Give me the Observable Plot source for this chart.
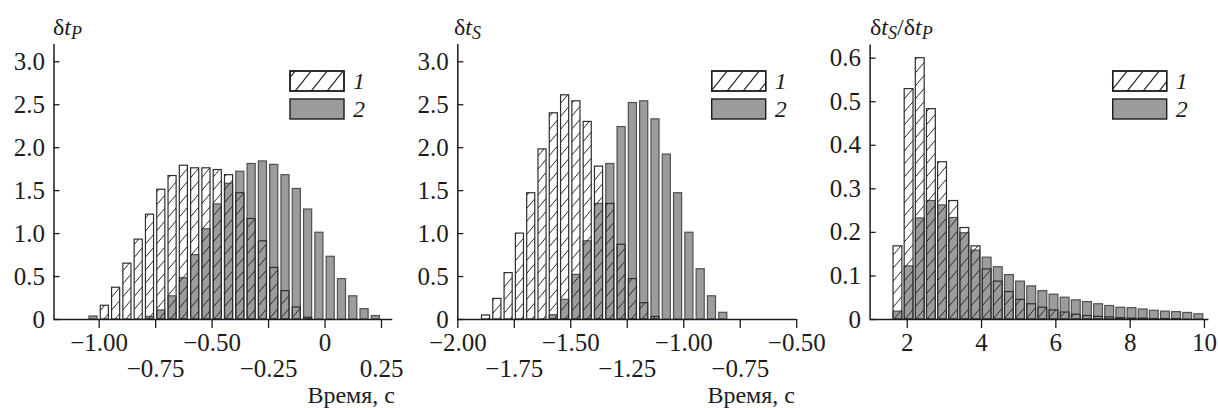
<!DOCTYPE html>
<html><head><meta charset="utf-8">
<script src="https://cdn.jsdelivr.net/npm/d3@7"></script>
<script src="https://cdn.jsdelivr.net/npm/@observablehq/plot@0.6"></script>
<style>
body{margin:0;background:#fff;}
#chart{position:relative;width:1218px;height:408px;overflow:hidden;background:#fff;font-family:"Liberation Serif","Times New Roman",serif;}
#chart > svg{position:absolute;top:0;}
#chart svg, #chart svg text{font-family:"Liberation Serif","Times New Roman",serif !important;}
#chart svg.panel g[aria-label*="tick label"]{font-size:25px !important;}
#chart svg.panel g[aria-label*="tick label"] text{font-size:25px !important;}
</style></head>
<body><div id="chart"></div>
<script>
// ---------- DATA ----------
// Panel 1: δt_P histogram (bin starts, width 0.05)
const p1Bins = [-1.05,-1.00,-0.95,-0.90,-0.85,-0.80,-0.75,-0.70,-0.65,-0.60,-0.55,-0.50,-0.45,-0.40,-0.35,-0.30,-0.25,-0.20,-0.15,-0.10,-0.05,0.00,0.05,0.10,0.15,0.20];
const p1BinWidth = 0.05;
const p1Series1 = [0,0.16,0.37,0.65,0.93,1.22,1.51,1.67,1.79,1.76,1.76,1.74,1.68,1.47,1.17,0.91,0.60,0.33,0.14,0.02,0,0,0,0,0,0];
const p1Series2 = [0.035,0,0,0,0,0.03,0.105,0.27,0.48,0.75,1.05,1.34,1.58,1.72,1.81,1.84,1.80,1.68,1.52,1.28,1.01,0.73,0.47,0.27,0.12,0.04];
const p1XDomain = [-1.2, 0.3];
const p1XTicksRow1 = [-1.00,-0.50,0];
const p1XLabelsRow1 = ["\u22121.00","\u22120.50","0"];
const p1XTicksRow2 = [-0.75,-0.25,0.25];
const p1XLabelsRow2 = ["\u22120.75","\u22120.25","0.25"];

// Panel 2: δt_S histogram
const p2Bins = [-1.90,-1.85,-1.80,-1.75,-1.70,-1.65,-1.60,-1.55,-1.50,-1.45,-1.40,-1.35,-1.30,-1.25,-1.20,-1.15,-1.10,-1.05,-1.00,-0.95,-0.90,-0.85];
const p2BinWidth = 0.05;
const p2Series1 = [0.047,0.24,0.54,1.00,1.47,1.98,2.40,2.61,2.54,2.30,1.78,1.345,0.87,0.47,0.19,0.03,0,0,0,0,0,0];
const p2Series2 = [0,0,0,0,0,0,0.05,0.23,0.52,0.91,1.345,1.81,2.24,2.52,2.54,2.33,1.92,1.47,1.01,0.585,0.27,0.078];
const p2XDomain = [-2.0, -0.5];
const p2XTicksRow1 = [-2.00,-1.50,-1.00,-0.50];
const p2XLabelsRow1 = ["\u22122.00","\u22121.50","\u22121.00","\u22120.50"];
const p2XTicksRow2 = [-1.75,-1.25,-0.75];
const p2XLabelsRow2 = ["\u22121.75","\u22121.25","\u22120.75"];

// Panel 3: δt_S/δt_P histogram (bin width 0.3)
const p3Bins = [1.6,1.9,2.2,2.5,2.8,3.1,3.4,3.7,4.0,4.3,4.6,4.9,5.2,5.5,5.8,6.1,6.4,6.7,7.0,7.3,7.6,7.9,8.2,8.5,8.8,9.1,9.4,9.7];
const p3BinWidth = 0.3;
const p3Series1 = [0.168,0.529,0.600,0.483,0.361,0.272,0.210,0.168,0.115,0.087,0.063,0.045,0.035,0.027,0.021,0.016,0.011,0.008,0.006,0.005,0.003,0.002,0.002,0.001,0.001,0.001,0,0];
const p3Series2 = [0.018,0.122,0.232,0.272,0.262,0.233,0.198,0.158,0.142,0.120,0.102,0.087,0.076,0.065,0.057,0.050,0.044,0.040,0.035,0.031,0.027,0.026,0.023,0.020,0.018,0.017,0.015,0.012];
const p3XDomain = [1, 10.12];
const p3XTicks = [2,4,6,8,10];
const p3XLabels = ["2","4","6","8","10"];

// Y axes
const p12YDomain = [0, 3.2];
const p12YTicks = [0,0.5,1.0,1.5,2.0,2.5,3.0];
const p12YLabels = ["0","0.5","1.0","1.5","2.0","2.5","3.0"];
const p3YDomain = [0, 0.63];
const p3YTicks = [0,0.1,0.2,0.3,0.4,0.5,0.6];
const p3YLabels = ["0","0.1","0.2","0.3","0.4","0.5","0.6"];

const legendLabels = ["1","2"];
const xTitle = "Время, с";

// ---------- STYLE ----------
const GREY = "#9c9c9e", GREY_STROKE = "#505050", DARK = "#1c1c1c";
const FONT = "Liberation Serif, Times New Roman, serif";
const FS = 24, TFS = 25;

const chart = document.getElementById("chart");

// overlay svg with pattern defs, titles and legends
const ov = d3.create("svg").attr("width",1218).attr("height",408)
  .style("left","0px").style("z-index",2).attr("font-family",FONT).style("pointer-events","none");
const defs = ov.append("defs");
function hatch(id, W, H, sw){
  const p = defs.append("pattern").attr("id",id).attr("patternUnits","userSpaceOnUse")
    .attr("width",W).attr("height",H);
  p.append("path")
    .attr("d",`M0,${H} L${W},0 M${-W/2},${H/2} L${W/2},${-H/2} M${W/2},${H*1.5} L${W*1.5},${H/2}`)
    .attr("stroke","#2a2a2a").attr("stroke-width",sw).attr("fill","none");
}
hatch("hatchBar", 11, 13, 1);
hatch("hatchLeg", 16, 20, 1.2);

function panel(cfg){
  const g = cfg.bins.map((b,i)=>({x1:b, x2:b+cfg.binWidth, y:cfg.s2[i]})).filter(d=>d.y>0);
  const h = cfg.bins.map((b,i)=>({x1:b, x2:b+cfg.binWidth, y:cfg.s1[i]})).filter(d=>d.y>0);
  const fmt = (ticks, labels) => d => labels[ticks.indexOf(d)];
  const marks = [
    Plot.rectY(g, {x1:"x1", x2:"x2", y:"y", fill:GREY, stroke:GREY_STROKE, strokeWidth:1.2, insetLeft:cfg.inset, insetRight:cfg.inset}),
    Plot.rectY(h, {x1:"x1", x2:"x2", y:"y", fill:"url(#hatchBar)", stroke:"#2e2e2e", strokeWidth:1.2, insetLeft:cfg.inset, insetRight:cfg.inset}),
    Plot.ruleX([cfg.xDomain[0]], {stroke:DARK, strokeWidth:1.5}),
    Plot.ruleY([0], {stroke:DARK, strokeWidth:1.5}),
    Plot.axisY({ticks:cfg.yTicks, tickSize:6, dx:6, tickFormat:()=>null, stroke:DARK, strokeWidth:1.3, label:null}),
    Plot.axisY({ticks:cfg.yTicks, tickSize:0, tickPadding:9, tickFormat:fmt(cfg.yTicks,cfg.yLabels), label:null, fontSize:TFS}),
  ];
  cfg.xRows.forEach(r => {
    marks.push(Plot.axisX({ticks:r.ticks, tickSize:9, tickPadding:r.pad, stroke:DARK, strokeWidth:1.3,
      tickFormat:fmt(r.ticks, r.labels), label:null, fontSize:TFS}));
  });
  const svg = Plot.plot({
    width:cfg.width, height:408,
    marginLeft:cfg.ml, marginRight:cfg.mr, marginTop:cfg.mt, marginBottom:89,
    x:{domain:cfg.xDomain, label:null},
    y:{domain:cfg.yDomain, label:null},
    style:{fontFamily:FONT, fontSize:TFS+"px", color:DARK, background:"transparent", overflow:"visible"},
    marks
  });
  svg.classList.add("panel");
  svg.style.left = cfg.left + "px";
  chart.appendChild(svg);
}

panel({left:0, width:406, ml:53.5, mr:13.7, mt:44.1, bins:p1Bins, binWidth:p1BinWidth, s1:p1Series1, s2:p1Series2,
  inset:1.6, xDomain:p1XDomain, yDomain:p12YDomain, yTicks:p12YTicks, yLabels:p12YLabels,
  xRows:[{ticks:p1XTicksRow1, labels:p1XLabelsRow1, pad:5},{ticks:p1XTicksRow2, labels:p1XLabelsRow2, pad:30.5}]});
panel({left:406, width:406, ml:51.3, mr:15.8, mt:44.1, bins:p2Bins, binWidth:p2BinWidth, s1:p2Series1, s2:p2Series2,
  inset:1.6, xDomain:p2XDomain, yDomain:p12YDomain, yTicks:p12YTicks, yLabels:p12YLabels,
  xRows:[{ticks:p2XTicksRow1, labels:p2XLabelsRow1, pad:5},{ticks:p2XTicksRow2, labels:p2XLabelsRow2, pad:30.5}]});
panel({left:812, width:406, ml:57.6, mr:9.6, mt:44.6, bins:p3Bins, binWidth:p3BinWidth, s1:p3Series1, s2:p3Series2,
  inset:1.15, xDomain:p3XDomain, yDomain:p3YDomain, yTicks:p3YTicks, yLabels:p3YLabels,
  xRows:[{ticks:p3XTicks, labels:p3XLabels, pad:5}]});

// titles (y-axis names)
function title(x, parts){
  const t = ov.append("text").attr("x",x).attr("y",34.5).attr("font-size",FS).attr("fill",DARK);
  let sub = false;
  parts.forEach(([s, italic, isSub]) => {
    const ts = t.append("tspan").text(s);
    if (italic) ts.attr("font-style","italic");
    if (isSub && !sub){ ts.attr("dy",4).attr("font-size",18); sub = true; }
    else if (isSub) { ts.attr("font-size",18); }
    else if (!isSub && sub){ ts.attr("dy",-4); sub = false; }
  });
}
title(53, [["δ",false,false],["t",true,false],["P",true,true]]);
title(454, [["δ",false,false],["t",true,false],["S",true,true]]);
title(870, [["δ",false,false],["t",true,false],["S",true,true],["/δ",false,false],["t",true,false],["P",true,true]]);

// legends
function legend(x){
  ov.append("rect").attr("x",x).attr("y",71).attr("width",54).attr("height",20)
    .attr("fill","#fff").attr("stroke",DARK).attr("stroke-width",1.4);
  ov.append("rect").attr("x",x).attr("y",71).attr("width",54).attr("height",20)
    .attr("fill","url(#hatchLeg)").attr("stroke",DARK).attr("stroke-width",1.4);
  ov.append("rect").attr("x",x).attr("y",99).attr("width",54).attr("height",20)
    .attr("fill",GREY).attr("stroke",DARK).attr("stroke-width",1.4);
  legendLabels.forEach((lab,i)=>{
    ov.append("text").attr("x",x+63).attr("y",89+28*i).attr("font-size",FS)
      .attr("font-style","italic").attr("fill",DARK).text(lab);
  });
}
legend(290); legend(711.7); legend(1112.7);

// x titles
[395, 795].forEach(x => ov.append("text").attr("x",x).attr("y",403).attr("text-anchor","end")
  .attr("font-size",FS).attr("fill",DARK).text(xTitle));

chart.appendChild(ov.node());
</script>
</body></html>
